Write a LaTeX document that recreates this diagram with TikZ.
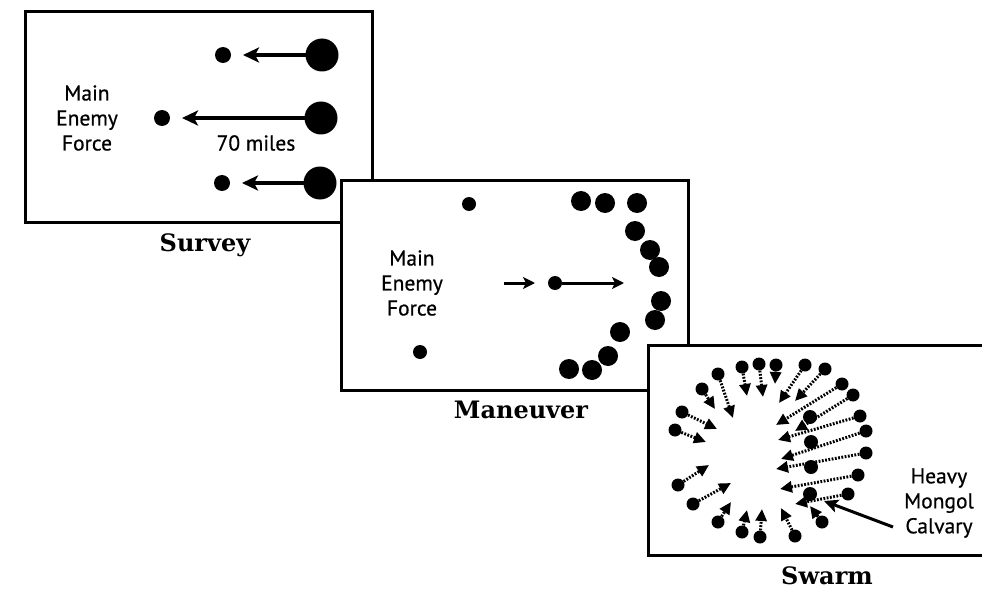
\documentclass[tikz,border=0pt]{standalone}
\usepackage{fontspec}
\setmainfont{DejaVu Serif}
\newfontfamily\lblfont[FakeBold=0.6]{PT Sans}
\usetikzlibrary{arrows.meta}
\begin{document}
\begin{tikzpicture}[x=1pt,y=-1pt,
  panel/.style={draw=black,line width=3pt,fill=white},
  ttl/.style={font=\bfseries\fontsize{24}{28}\selectfont,inner sep=0pt},
  lbl/.style={font=\lblfont\fontsize{21.5}{25}\selectfont,align=center,inner sep=0pt},
  dotsm/.style={circle,fill=black,inner sep=0pt,minimum size=16pt},
  dotbig/.style={circle,fill=black,inner sep=0pt,minimum size=33pt},
  dotmv/.style={circle,fill=black,inner sep=0pt,minimum size=20pt},
  dotsw/.style={circle,fill=black,inner sep=0pt,minimum size=13pt},
  survarrow/.style={line width=3.5pt,-{Stealth[length=16pt,width=15pt,inset=4pt]},shorten <=-1pt},
  mvarrow/.style={line width=3pt,-{Stealth[length=12pt,width=12pt,inset=3pt]}},
  swarrow/.style={line width=3pt,dash pattern=on 1.8pt off 1.5pt,-{Triangle[length=12pt,width=11pt]}},
  ptrarrow/.style={line width=3pt,-{Stealth[length=14pt,width=13pt,inset=3pt]}}
]
\useasboundingbox (0,0) rectangle (982,591);
\clip (0,0) rectangle (982,591);
\fill[white] (0,0) rectangle (982,591);

% ---------- Survey ----------
\draw[panel] (25,12) rectangle (372,222);
\node[ttl] (survey) at (205,245) {Survey};
\node[lbl] (mef1) at (87,118) {Main\\Enemy\\Force};
\node[dotsm] (s1) at (223,55) {};
\node[dotsm] (s2) at (162,118) {};
\node[dotsm] (s3) at (222,183) {};
\node[dotbig] (b1) at (322,55) {};
\node[dotbig] (b2) at (321,118) {};
\node[dotbig] (b3) at (320,183) {};
\coordinate (t1) at (243,55);
\coordinate (t2) at (182,118);
\coordinate (t3) at (242,183);
\draw[survarrow] (b1) -- (t1);
\draw[survarrow] (b2) -- (t2);
\draw[survarrow] (b3) -- (t3);
\node[lbl] (miles) at (256,143) {70 miles};

% ---------- Maneuver ----------
\draw[panel] (341,180) rectangle (688,390);
\node[ttl] (maneuver) at (521,410) {Maneuver};
\node[lbl] (mef2) at (412,283) {Main\\Enemy\\Force};
\node[circle,fill=black,inner sep=0pt,minimum size=14pt] (m1) at (469,204) {};
\node[circle,fill=black,inner sep=0pt,minimum size=14pt] (m2) at (420,352) {};
\coordinate (ma0) at (504,283);
\coordinate (ma1) at (535,283);
\draw[mvarrow] (ma0) -- (ma1);
\node[circle,fill=black,inner sep=0pt,minimum size=14pt] (m3) at (555,283) {};
\coordinate (ma2) at (624,283);
\draw[mvarrow] (m3) -- (ma2);
\foreach \i/\x/\y in {1/581/201,2/605/203,3/637/203,4/635/231,5/650/250,6/659/267,
  7/661/301,8/655/320,9/620/332,10/608/356,11/592/370,12/569/369}
  \node[dotmv] (c\i) at (\x,\y) {};

% ---------- Swarm ----------
\draw[panel] (648,345) rectangle (995,555);
\node[ttl] (swarm) at (827,576) {Swarm};
% heavy cavalry column
\foreach \i/\x/\y in {1/810/417,2/811/442,3/811/467,4/810/494}
  \node[dotsw,minimum size=14pt] (h\i) at (\x,\y) {};
% riders with dotted arrows toward the centre
\foreach \i/\dx/\dy/\tx/\ty in {
  1/742/367/747/396, 2/759/364/763/397, 3/776/365/775/384, 4/805/365/779/403,
  5/825/369/795/401, 6/842/384/776/425, 7/853/395/795/431, 8/860/416/778/440,
  9/866/431/781/459, 10/866/453/776/469, 11/858/475/780/489, 12/848/494/795/504,
  13/822/522/810/506, 14/795/536/781/508, 15/760/537/762/509, 16/742/532/747/510,
  17/718/522/731/502, 18/693/504/731/483, 19/678/485/709/465, 20/675/430/706/442,
  21/682/412/717/429, 22/702/389/715/409, 23/718/374/733/418}
{
  \node[dotsw] (w\i) at (\dx,\dy) {};
  \coordinate (wt\i) at (\tx,\ty);
  \draw[swarrow] (w\i) -- (wt\i);
}
\node[lbl] (hmc) at (939,503) {Heavy\\Mongol\\Calvary};
\coordinate (p0) at (893,527);
\coordinate (p1) at (824,501);
\draw[ptrarrow] (p0) -- (p1);
\end{tikzpicture}
\end{document}
